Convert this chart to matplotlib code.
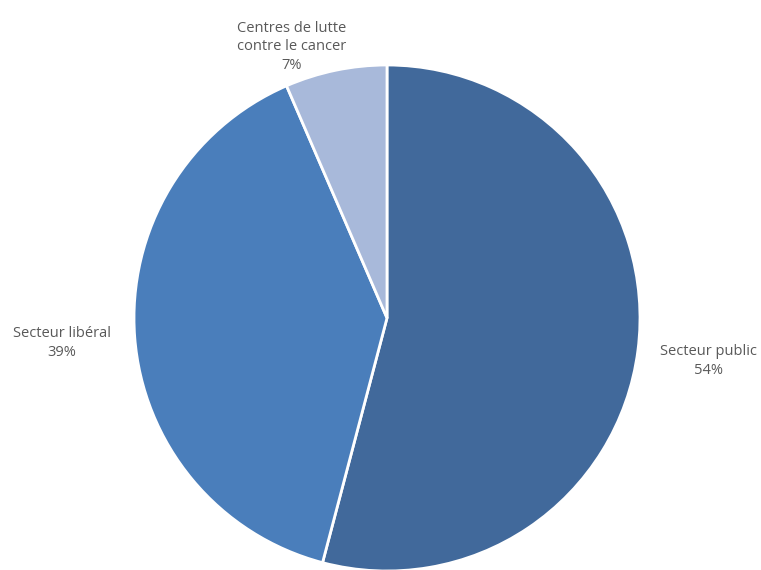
import numpy as np
import matplotlib
matplotlib.use("Agg")
import matplotlib.pyplot as plt

# data
labels = ['Secteur public', 'Secteur libéral', 'Centres de lutte\ncontre le cancer']
shares = [54.1, 39.4, 6.5]
pct_labels = ['54%', '39%', '7%']
colors = ['#41699B', '#4A7EBB', '#A8B9DA']

# label placement (radius factor, angle shift in degrees)
label_dist = [1.28, 1.29, 1.135]
label_shift = [-0.2, 0.1, 7.6]

plt.rcParams['font.family'] = ['Open Sans', 'DejaVu Sans']

fig = plt.figure(figsize=(7.61, 5.70), dpi=100)
ax = fig.add_axes([0, 0, 1, 1])

cx, cy, r = 387, 570 - 318, 253
wedges, _ = ax.pie(shares, colors=colors, startangle=90, counterclock=False,
                   center=(cx, cy), radius=r, frame=True,
                   wedgeprops=dict(edgecolor='white', linewidth=2))
ax.set_xlim(0, 761)
ax.set_ylim(0, 570)
ax.set_aspect('equal')
ax.axis('off')

for w, lab, pct, d, s in zip(wedges, labels, pct_labels, label_dist, label_shift):
    ang = np.deg2rad((w.theta1 + w.theta2) / 2 + s)
    x = cx + d * r * np.cos(ang)
    y = cy + d * r * np.sin(ang)
    ax.text(x, y, lab + '\n' + pct, ha='center', va='center',
            fontsize=10.5, color='#595959', linespacing=1.35)

fig.savefig('out.png', dpi=100)
